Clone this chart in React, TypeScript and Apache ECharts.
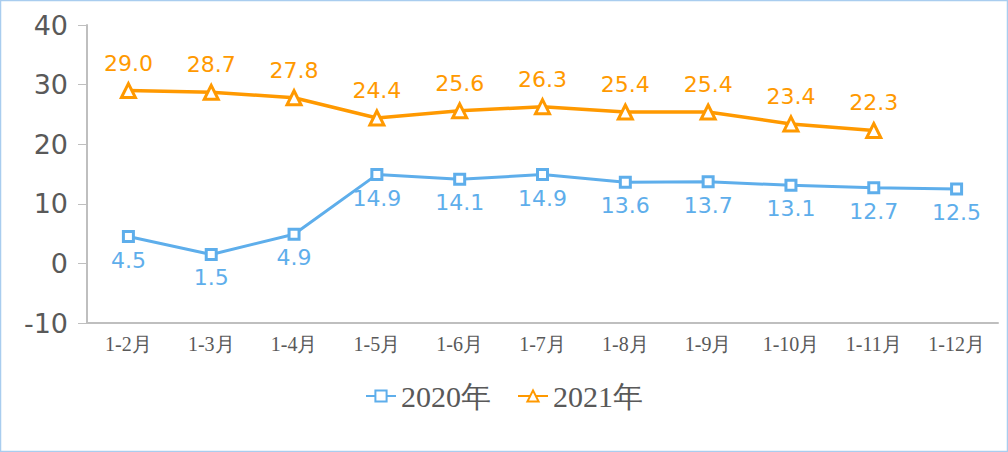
import React, { useEffect, useRef } from "react";
import * as echarts from "echarts";

const categories = ["1-2月", "1-3月", "1-4月", "1-5月", "1-6月", "1-7月", "1-8月", "1-9月", "1-10月", "1-11月", "1-12月"];
const series2020 = [4.5, 1.5, 4.9, 14.9, 14.1, 14.9, 13.6, 13.7, 13.1, 12.7, 12.5];
const series2021 = [29.0, 28.7, 27.8, 24.4, 25.6, 26.3, 25.4, 25.4, 23.4, 22.3, null];
const seriesNames = ["2020年", "2021年"];

const BLUE = "#5EAEEB";
const ORANGE = "#FF9900";
const SERIF = "Liberation Serif";

export default function App() {
  const ref = useRef<HTMLDivElement>(null);
  useEffect(() => {
    document.body.style.margin = "0";
    const chart = echarts.init(ref.current!, null, { renderer: "svg" });
    const labelFmt = (p: any) => (p.value == null ? "" : Number(p.value).toFixed(1));
    chart.setOption({
      animation: false,
      backgroundColor: "#ffffff",
      graphic: [
        {
          type: "rect",
          shape: { x: 0.5, y: 0.5, width: 1007, height: 451 },
          style: { fill: "none", stroke: "#A9CDEF", lineWidth: 1.5 },
          silent: true,
        },
      ],
      grid: { left: 87, right: 10, top: 25, bottom: 129, containLabel: false },
      legend: {
        bottom: 36,
        left: "center",
        itemWidth: 30,
        itemHeight: 14,
        itemGap: 26,
        textStyle: { fontFamily: SERIF, fontSize: 30, color: "#595959" },
        data: seriesNames,
      },
      xAxis: {
        type: "category",
        data: categories,
        boundaryGap: true,
        axisLine: { onZero: false, lineStyle: { color: "#BFBFBF", width: 2 } },
        axisTick: { show: false },
        axisLabel: { fontFamily: SERIF, fontSize: 20, color: "#595959", margin: 11 },
      },
      yAxis: {
        type: "value",
        min: -10,
        max: 40,
        interval: 10,
        splitLine: { show: false },
        axisLine: { show: true, lineStyle: { color: "#BFBFBF", width: 2 } },
        axisTick: { show: true, length: 9, lineStyle: { color: "#BFBFBF", width: 1 } },
        axisLabel: { fontFamily: "DejaVu Sans", fontSize: 27, color: "#595959", margin: 19 },
      },
      series: [
        {
          name: seriesNames[0],
          type: "line",
          data: series2020,
          symbol: "rect",
          symbolSize: 10,
          itemStyle: { color: "#ffffff", borderColor: BLUE, borderWidth: 3 },
          lineStyle: { color: BLUE, width: 3 },
          label: {
            show: true,
            position: "bottom",
            distance: 6,
            formatter: labelFmt,
            fontFamily: "DejaVu Sans",
            fontSize: 22,
            color: BLUE,
          },
        },
        {
          name: seriesNames[1],
          type: "line",
          data: series2021,
          symbol: "triangle",
          symbolSize: 14,
          itemStyle: { color: "#ffffff", borderColor: ORANGE, borderWidth: 3 },
          lineStyle: { color: ORANGE, width: 3.5 },
          label: {
            show: true,
            position: "top",
            distance: 8,
            formatter: labelFmt,
            fontFamily: "DejaVu Sans",
            fontSize: 22,
            color: ORANGE,
          },
        },
      ],
    });
    return () => chart.dispose();
  }, []);
  return <div ref={ref} style={{ width: 1008, height: 452 }} />;
}
